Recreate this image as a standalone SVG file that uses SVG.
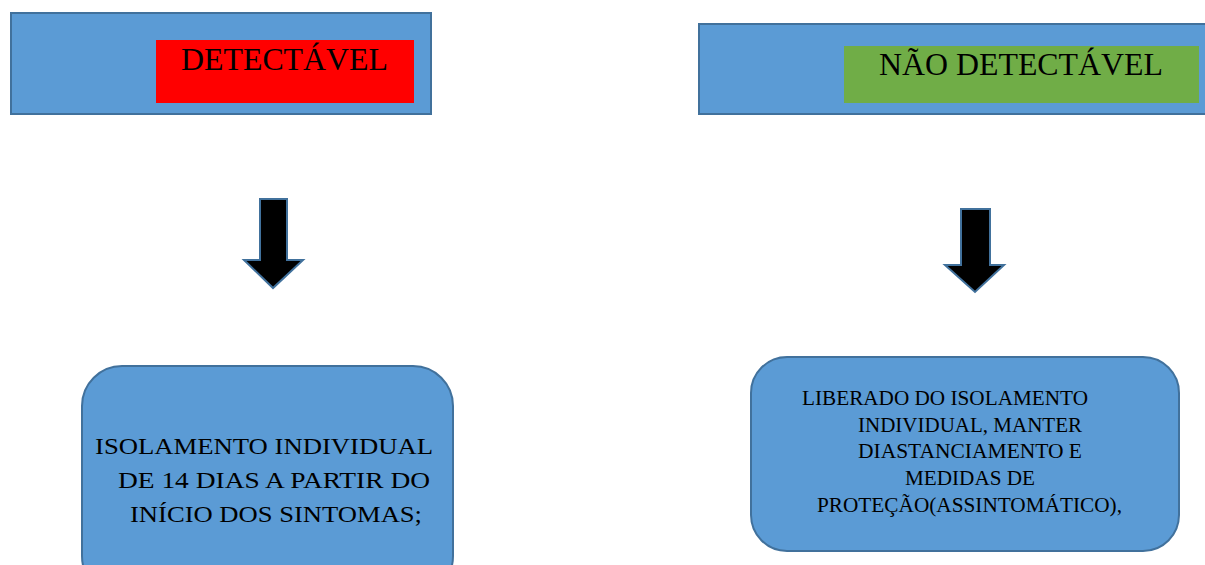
<svg xmlns="http://www.w3.org/2000/svg" width="1205" height="565" viewBox="0 0 1205 565">
<style>
.box{fill:#5B9BD5;stroke:#41719C;stroke-width:2}
.arrow{fill:#000;stroke:#41719C;stroke-width:2;stroke-linejoin:miter}
.t{font-family:"Liberation Serif","Times New Roman",serif;fill:#000}
.big{font-size:32px}
.mid{font-size:24px}
.sm{font-size:21px}
</style>
<rect width="1205" height="565" fill="#fff"/>
<g id="node-detectavel">
<rect class="box" x="11" y="13" width="420" height="101"/>
<rect x="156" y="40" width="258" height="63" fill="#FF0000"/>
<text class="t big" x="181" y="70" textLength="207" lengthAdjust="spacingAndGlyphs">DETECTÁVEL</text>
</g>
<g id="node-nao-detectavel">
<rect class="box" x="699" y="24" width="520" height="90"/>
<rect x="844" y="46" width="355" height="57" fill="#70AD47"/>
<text class="t big" x="879" y="75" textLength="284" lengthAdjust="spacingAndGlyphs">NÃO DETECTÁVEL</text>
</g>
<g id="connectors">
<polygon class="arrow" points="260,199 287,199 287,260 303,260 273,288 244,260 260,260"/>
<polygon class="arrow" points="961,209 990,209 990,265 1004,265 975,292 945,265 961,265"/>
</g>
<g id="node-isolamento">
<rect class="box" x="82" y="366" width="371" height="230" rx="40" ry="40"/>
<text class="t mid" x="95" y="454" textLength="338" lengthAdjust="spacingAndGlyphs">ISOLAMENTO INDIVIDUAL</text>
<text class="t mid" x="118" y="488" textLength="312" lengthAdjust="spacingAndGlyphs">DE 14 DIAS A PARTIR DO</text>
<text class="t mid" x="130" y="522" textLength="292" lengthAdjust="spacingAndGlyphs">INÍCIO DOS SINTOMAS;</text>
</g>
<g id="node-liberado">
<rect class="box" x="751" y="357" width="428" height="194" rx="36" ry="36"/>
<text class="t sm" x="802" y="405" textLength="286" lengthAdjust="spacingAndGlyphs">LIBERADO DO ISOLAMENTO</text>
<text class="t sm" x="858" y="432" textLength="224" lengthAdjust="spacingAndGlyphs">INDIVIDUAL, MANTER</text>
<text class="t sm" x="858" y="458" textLength="224" lengthAdjust="spacingAndGlyphs">DIASTANCIAMENTO E</text>
<text class="t sm" x="905" y="485" textLength="130" lengthAdjust="spacingAndGlyphs">MEDIDAS DE</text>
<text class="t sm" x="817" y="512" textLength="305" lengthAdjust="spacingAndGlyphs">PROTEÇÃO(ASSINTOMÁTICO),</text>
</g>
</svg>
